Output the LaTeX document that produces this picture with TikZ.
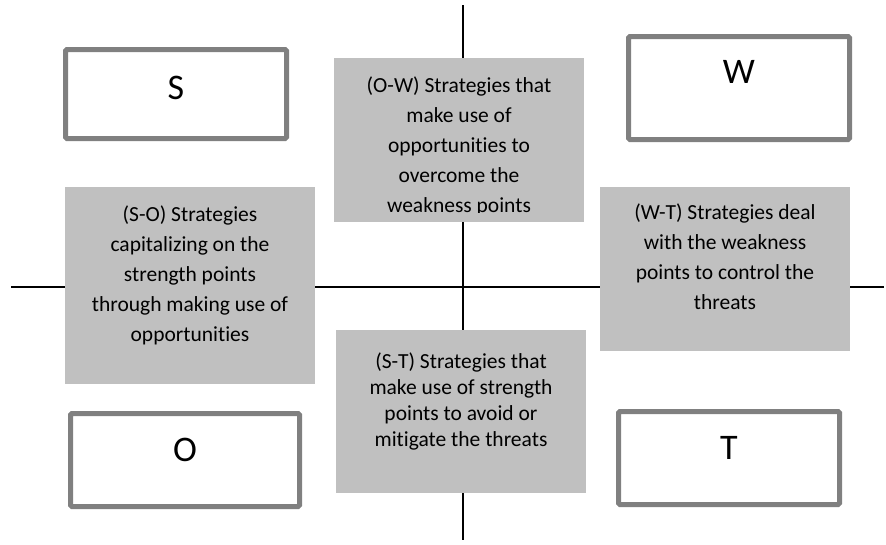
\documentclass[tikz,border=0pt]{standalone}
\usepackage{fontspec}
\setmainfont{Carlito}[Ligatures={NoCommon}]
\usetikzlibrary{positioning}
\definecolor{boxgray}{RGB}{128,128,128}
\definecolor{stratgray}{RGB}{192,192,192}

\begin{document}
\begin{tikzpicture}[x=1pt,y=-1pt,
        axis/.style={line width=2.4pt,black},
        letterbox/.style={draw=boxgray,line width=5pt,rounded corners=1.5pt,fill=white,
            minimum width=221pt,font=\fontsize{36}{40}\selectfont,text height=26pt},
        stratbox/.style={fill=stratgray,minimum width=250pt,inner sep=0pt},
        strattext/.style={align=center,inner sep=0pt,font=\fontsize{21.5}{30}\selectfont}]
        \useasboundingbox (0,0) rectangle (886,544);
        % the two axes
        \coordinate (top) at (463,5);
        \coordinate (bottom) at (463,540);
        \coordinate (left) at (11,287);
        \coordinate (right) at (884,287);
        \draw[axis] (top) -- (bottom);
        \draw[axis] (left) -- (right);
        % corner boxes
        \node[letterbox,minimum height=89pt,text depth=14.8pt] (S) at (176,94) {S};
        \node[letterbox,minimum height=103pt,text depth=34.8pt] (W) at (739,88) {W};
        \node[letterbox,minimum width=229pt,minimum height=93pt,text depth=22.8pt] (O) at (185,460) {O};
        \node[letterbox,minimum height=93pt,text depth=22.8pt] (T) at (729,458) {T};
        % strategy boxes
        \node[stratbox,minimum height=164pt] (OW) at (459,140) {};
        \node[stratbox,minimum height=197pt] (SO) at (190,285.5) {};
        \node[stratbox,minimum height=164pt] (WT) at (725,269) {};
        \node[stratbox,minimum height=163pt] (ST) at (461,411.5) {};
        \begin{scope}
            \clip (OW.north west) rectangle ([yshift=10pt]OW.south east);
            \node[strattext,below=19pt of OW.north] (OWtext) {(O-W) Strategies that\\make use of\\opportunities to\\overcome the\\weakness points};
        \end{scope}
        \node[strattext,below=19pt of SO.north] (SOtext) {(S-O) Strategies\\capitalizing on the\\strength points\\through making use of\\opportunities};
        \node[strattext,below=17pt of WT.north] (WTtext) {(W-T) Strategies deal\\with the weakness\\points to control the\\threats};
        \node[strattext,font=\fontsize{21.5}{26}\selectfont,below=23pt of ST.north] (STtext) {(S-T) Strategies that\\make use of strength\\points to avoid or\\mitigate the threats};
\end{tikzpicture}
\end{document}
